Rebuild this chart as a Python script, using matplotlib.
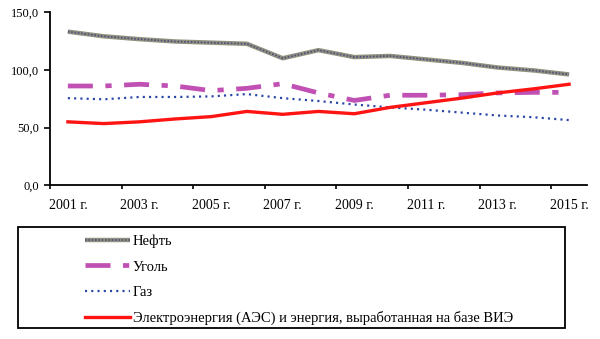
import matplotlib
matplotlib.use('Agg')
import matplotlib.pyplot as plt
from matplotlib.patches import Rectangle

plt.rcParams['font.family'] = ['Liberation Serif', 'DejaVu Serif']
plt.rcParams['lines.scale_dashes'] = False

years = list(range(2001, 2016))
tick_years = [2001, 2003, 2005, 2007, 2009, 2011, 2013, 2015]
tick_labels = [f'{y} г.' for y in tick_years]

oil = [133, 129, 126.5, 124.5, 123.5, 122.5, 110, 117, 111, 112, 109, 106, 102, 99.5, 96]
coal = [86, 86, 87.5, 86, 82, 84, 88, 80, 73.5, 78, 78, 78.5, 80, 80.5, 80.5]
gas = [75.5, 74.5, 76.5, 76.5, 77, 79, 75.5, 73, 70, 67.5, 65.5, 63, 60.5, 59, 56.5]
elec = [55, 53.5, 55, 57.5, 59.5, 64, 61.5, 64, 62, 67.5, 71.5, 75.5, 80, 83.5, 87.5]

names = ['Нефть', 'Уголь', 'Газ',
         'Электроэнергия (АЭС) и энергия, выработанная на базе ВИЭ']

fig = plt.figure(figsize=(6, 3.39), dpi=100)
ax = fig.add_axes([0.0833, 0.453, 0.895, 0.5116])

# oil: grey band with dark dotted core
l_oil_a, = ax.plot(years, oil, color='#8e937e', lw=3.2, solid_capstyle='butt')
l_oil_b, = ax.plot(years, oil, color='#5b4a82', lw=1.3, linestyle=(0, (1.2, 1.2)))
l_coal, = ax.plot(years, coal, color='#c050b4', lw=3.4,
                  linestyle=(0, (18, 9, 4.5, 9)), solid_capstyle='butt')
l_gas, = ax.plot(years, gas, color='#2a45a8', lw=1.6, linestyle=(0, (1.5, 3)))
l_elec, = ax.plot(years, elec, color='#ff1414', lw=2.4)

ax.set_xlim(2000.5, 2015.5)
ax.set_ylim(0, 150)
ax.set_yticks([0, 50, 100, 150])
ax.set_yticklabels(['0,0', '50,0', '100,0', '150,0'])
ax.set_xticks([y - 0.5 for y in tick_years])
ax.set_xticklabels([])
ax.set_xticks(tick_years, minor=True)
ax.set_xticklabels(tick_labels, minor=True)
ax.tick_params(axis='x', which='minor', length=0, pad=10)
ax.tick_params(axis='x', which='major', length=3, width=1.2, direction='out')
ax.tick_params(axis='y', length=4, width=1.2, direction='out', pad=4)
ax.tick_params(labelsize=9)
for s in ['top', 'right']:
    ax.spines[s].set_visible(False)
for s in ['left', 'bottom']:
    ax.spines[s].set_linewidth(1.3)

# legend box
fig.patches.append(Rectangle((0.03, 0.0324), 0.912, 0.298, transform=fig.transFigure,
                             fill=False, edgecolor='black', lw=1.3))
leg = fig.legend([(l_oil_a, l_oil_b), l_coal, l_gas, l_elec], names,
                 loc='upper left', bbox_to_anchor=(0.142, 0.307), frameon=False,
                 fontsize=10.5, handlelength=3.1, handletextpad=0.15,
                 labelspacing=0.82, borderpad=0, borderaxespad=0)

fig.savefig('out.png', dpi=100)
